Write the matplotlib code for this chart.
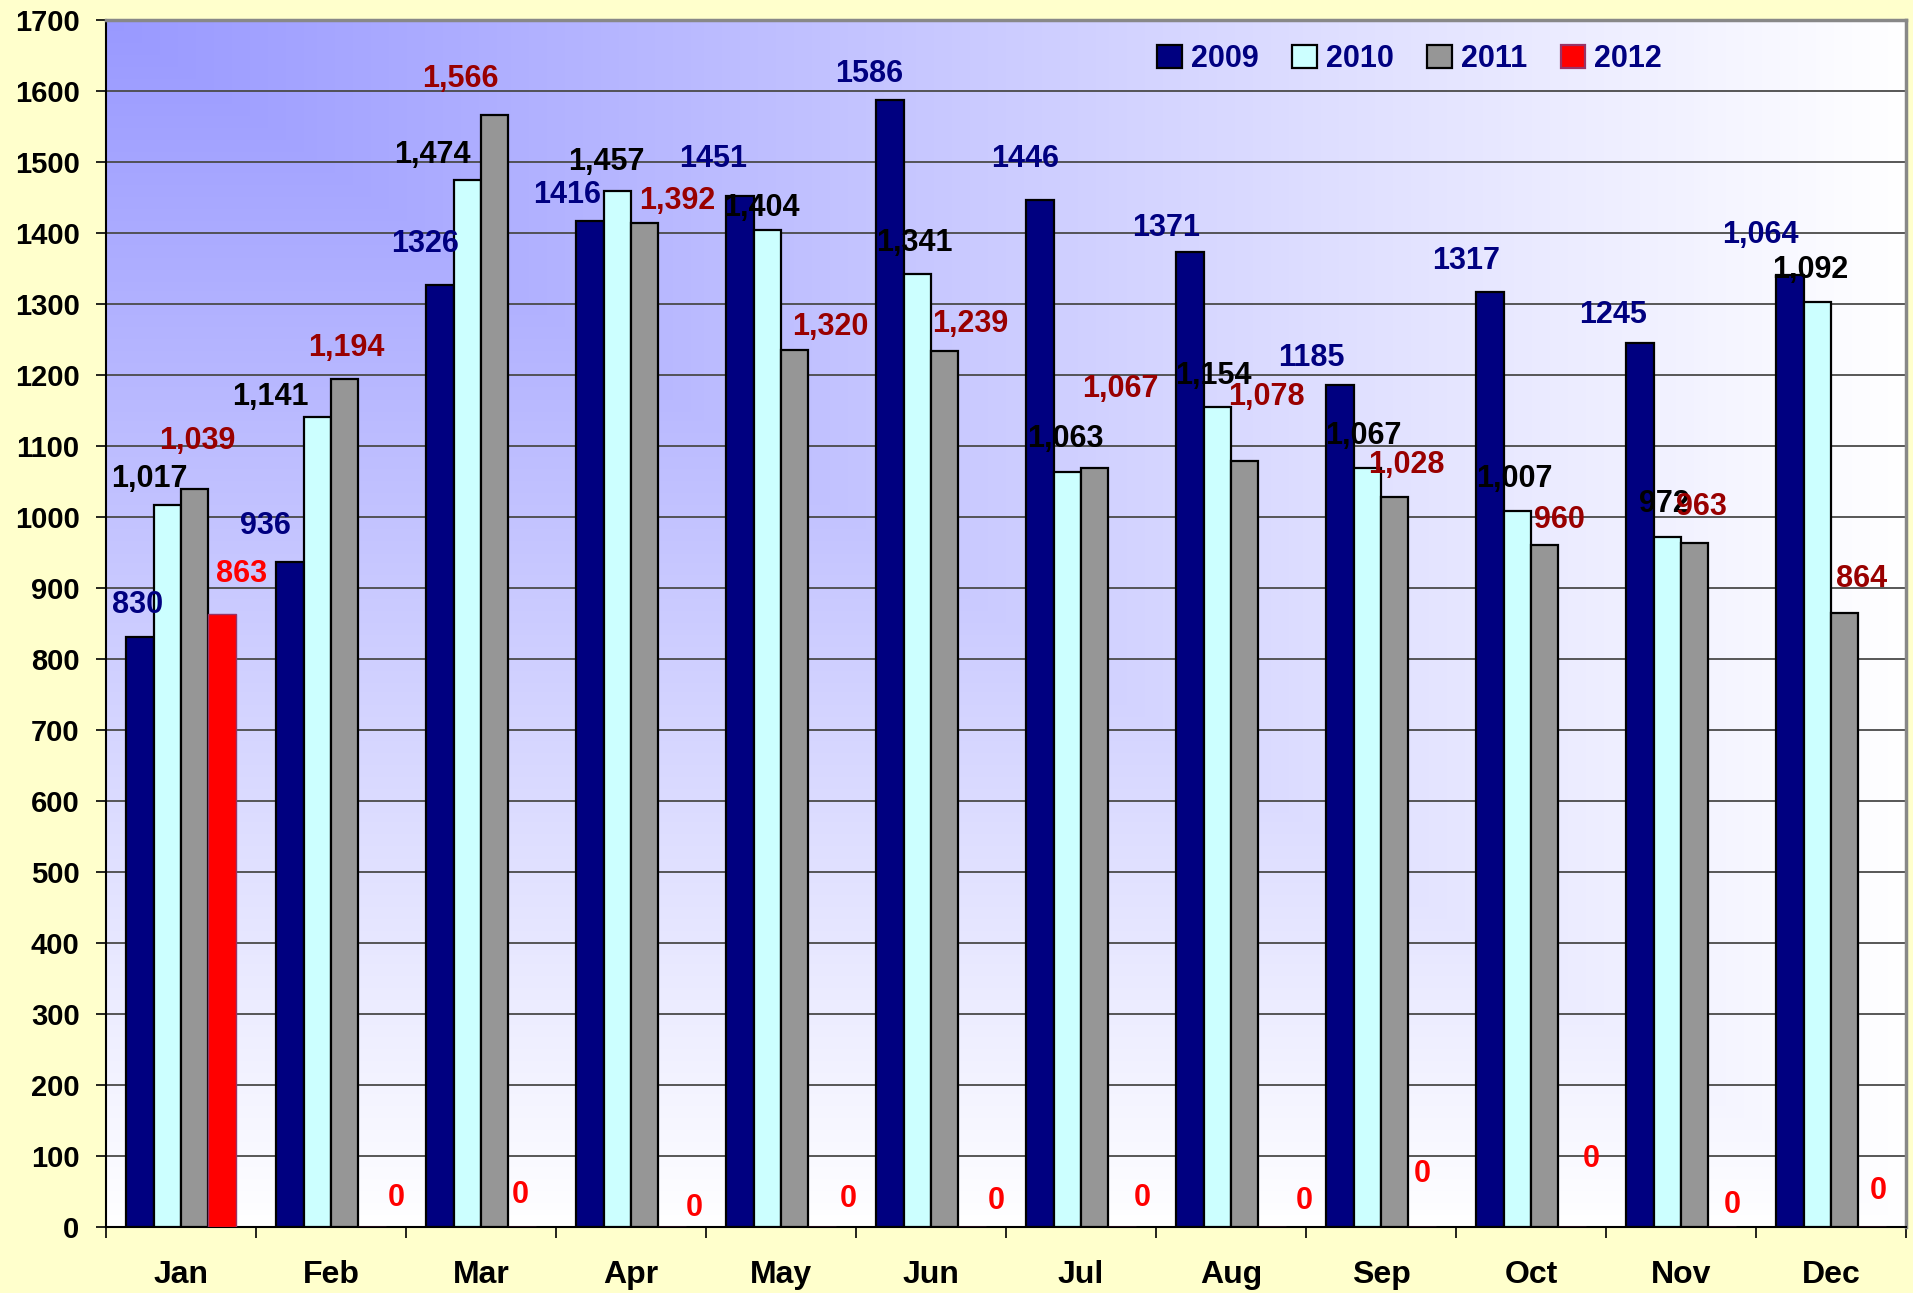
import numpy as np
import matplotlib
matplotlib.use('Agg')
import matplotlib.pyplot as plt
from matplotlib.patches import Patch

plt.rcParams['font.family'] = ['Liberation Sans', 'DejaVu Sans']
plt.rcParams['font.weight'] = 'bold'

months = ['Jan', 'Feb', 'Mar', 'Apr', 'May', 'Jun', 'Jul', 'Aug', 'Sep', 'Oct', 'Nov', 'Dec']
years = ['2009', '2010', '2011', '2012']

v2009 = [830, 936, 1326, 1416, 1451, 1586, 1446, 1372, 1186, 1317, 1245, 1340]
v2010 = [1017, 1141, 1474, 1458, 1404, 1341, 1063, 1154, 1068, 1008, 972, 1302]
v2011 = [1039, 1194, 1566, 1413, 1234, 1233, 1068, 1078, 1028, 960, 963, 864]
v2012 = [863, 0, 0, 0, 0, 0, 0, 0, 0, 0, 0, 0]

lab2009 = ['830', '936', '1326', '1416', '1451', '1586', '1446', '1371', '1185', '1317', '1245', '1,064']
lab2010 = ['1,017', '1,141', '1,474', '1,457', '1,404', '1,341', '1,063', '1,154', '1,067', '1,007', '972', '1,092']
lab2011 = ['1,039', '1,194', '1,566', '1,392', '1,320', '1,239', '1,067', '1,078', '1,028', '960', '963', '864']
lab2012 = ['863', '0', '0', '0', '0', '0', '0', '0', '0', '0', '0', '0']

# label placement offsets relative to bar top-centre (dx in group units, dy in value units)
dx2009 = [-0.015, -0.163, -0.099, -0.150, -0.176, -0.137, -0.098, -0.156, -0.190, -0.159, -0.177, -0.195]
dy2009 = [46, 51, 58, 37, 53, 37, 58, 34, 37, 43, 39, 56]
dx2010 = [-0.117, -0.313, -0.234, -0.073, -0.042, -0.019, -0.013, -0.023, -0.024, -0.018, -0.019, -0.045]
dy2010 = [36, 28, 35, 41, 30, 45, 46, 44, 45, 45, 46, 46]
dx2011 = [0.018, 0.008, -0.229, 0.216, 0.239, 0.172, 0.170, 0.144, 0.078, 0.101, 0.042, 0.114]
dy2011 = [67, 44, 50, 31, 33, 39, 112, 91, 45, 36, 50, 49]
dx2012 = [0.127, 0.158, -0.014, 0.146, 0.177, 0.159, 0.133, 0.213, 0.000, 0.129, 0.070, 0.044]
dy2012 = [56, 41, 45, 27, 39, 36, 41, 36, 74, 96, 31, 50]

series = [v2009, v2010, v2011, v2012]
labels = [lab2009, lab2010, lab2011, lab2012]
dxs = [dx2009, dx2010, dx2011, dx2012]
dys = [dy2009, dy2010, dy2011, dy2012]

bar_colors = ['#000080', '#CCFFFF', '#969696', '#FF0000']
edge_colors = ['#000000', '#000000', '#000000', '#993366']
label_colors = ['#000080', '#000000', '#990000', '#FF0000']

fig = plt.figure(figsize=(19.13, 12.93), dpi=100, facecolor='#FFFFCC')
ax = fig.add_axes([106 / 1913, 1 - 1227 / 1293, 1800 / 1913, (1227 - 19.5) / 1293])

# gradient background (from top-left corner)
n = 400
xx, yy = np.meshgrid(np.linspace(0, 1, n), np.linspace(0, 1, n))  # yy: 0 at top row
t = np.maximum(xx, yy)
c0 = np.array([153, 153, 255]) / 255.0
c1 = np.array([255, 255, 255]) / 255.0
img = c0[None, None, :] * (1 - t[..., None]) + c1[None, None, :] * t[..., None]
ax.imshow(img, extent=[0, 1, 0, 1], transform=ax.transAxes, aspect='auto', zorder=0, origin='upper')

x = np.arange(len(months))
w = 0.1826
offs = (np.arange(4) - 1.5) * w
fs = 22

for k in range(4):
    ax.bar(x + offs[k], series[k], width=w, color=bar_colors[k], edgecolor=edge_colors[k],
           linewidth=1.6 if k < 3 else 1.0, zorder=3)
    for i in range(len(months)):
        ax.text(x[i] + offs[k] + dxs[k][i], series[k][i] + dys[k][i], labels[k][i],
                ha='center', va='center', fontsize=fs, fontweight='bold',
                color=label_colors[k], zorder=5)

ax.set_xlim(-0.5, 11.5)
ax.set_ylim(0, 1700)

ax.set_yticks(np.arange(0, 1701, 100))
ax.set_yticklabels([str(v) for v in range(0, 1701, 100)], fontsize=21, fontweight='bold')
ax.tick_params(axis='y', length=7, width=1.2, pad=12, colors='black')

ax.set_xticks(np.arange(-0.5, 12, 1.0))
ax.set_xticklabels([])
ax.set_xticks(x, minor=True)
ax.set_xticklabels(months, minor=True, fontsize=23, fontweight='bold')
ax.tick_params(axis='x', which='major', length=8, width=1.2, direction='out')
ax.tick_params(axis='x', which='minor', length=0, pad=24)

ax.set_axisbelow(True)
ax.yaxis.grid(True, color='#4a4a4a', linewidth=1.3, zorder=1)

ax.spines['left'].set_color('black')
ax.spines['left'].set_linewidth(1.5)
ax.spines['bottom'].set_color('black')
ax.spines['bottom'].set_linewidth(1.5)
ax.spines['top'].set_color('#888888')
ax.spines['top'].set_linewidth(2.5)
ax.spines['right'].set_color('#888888')
ax.spines['right'].set_linewidth(2.5)

handles = [Patch(facecolor=bar_colors[k], edgecolor=edge_colors[k], linewidth=1.6) for k in range(4)]
leg = ax.legend(handles, years, loc='center left', bbox_to_anchor=(0.584, 0.967), ncol=4,
                frameon=False, fontsize=fs, handlelength=0.8, handleheight=0.8,
                handletextpad=0.3, columnspacing=1.1, borderpad=0, borderaxespad=0)
for txt in leg.get_texts():
    txt.set_color('#000080')
    txt.set_fontweight('bold')
leg.set_zorder(6)

fig.savefig('out.png', dpi=100, facecolor=fig.get_facecolor())
